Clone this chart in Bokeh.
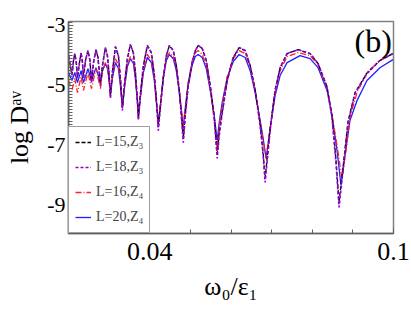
from bokeh.plotting import figure
from bokeh.models import Range1d, FixedTicker, Legend, LegendItem, Label
from bokeh.embed import file_html
from bokeh.resources import INLINE

# ---- data ----
x_purple = [0.02000, 0.02086, 0.02123, 0.02155, 0.02192, 0.02221, 0.02270, 0.02310, 0.02344, 0.02369,
            0.02418, 0.02479, 0.02528, 0.02565, 0.02614, 0.02676, 0.02725, 0.02786, 0.02835, 0.02909,
            0.02958, 0.02995, 0.03032, 0.03081, 0.03155, 0.03229, 0.03278, 0.03327, 0.03376, 0.03450,
            0.03523, 0.03597, 0.03646, 0.03695, 0.03720, 0.03769, 0.03843, 0.03941, 0.04039, 0.04113,
            0.04162, 0.04211, 0.04260, 0.04334, 0.04408, 0.04482, 0.04580, 0.04654, 0.04727, 0.04776,
            0.04826, 0.04875, 0.04948, 0.05047, 0.05120, 0.05194, 0.05292, 0.05391, 0.05489, 0.05587,
            0.05661, 0.05710, 0.05784, 0.05907, 0.06054, 0.06201, 0.06349, 0.06472, 0.06595, 0.06717,
            0.06791, 0.06840, 0.06963, 0.07086, 0.07209, 0.07381, 0.07651, 0.07946, 0.08143, 0.08364,
            0.08486, 0.08585, 0.08659, 0.08757, 0.08880, 0.09052, 0.09347, 0.09666, 0.09986]
y_purple = [-4.02, -4.68, -4.18, -3.95, -4.25, -4.78, -4.25, -3.92, -4.25, -4.78,
            -4.18, -3.85, -4.18, -4.92, -4.25, -3.82, -4.08, -5.02, -4.35, -3.75,
            -4.02, -4.58, -5.45, -4.58, -3.72, -4.02, -4.78, -5.85, -5.02, -4.12,
            -3.65, -3.92, -4.58, -5.52, -6.18, -5.35, -4.35, -3.68, -3.92, -4.68,
            -5.52, -6.52, -5.78, -4.78, -4.02, -3.68, -3.85, -4.35, -5.18, -6.02,
            -6.92, -6.02, -5.02, -4.25, -3.85, -3.68, -3.78, -4.18, -5.02, -6.12,
            -7.45, -6.68, -5.95, -4.85, -4.08, -3.75, -3.85, -4.35, -5.18, -6.35,
            -7.35, -8.25, -6.52, -5.18, -4.42, -3.95, -3.82, -3.95, -4.28, -5.08,
            -6.08, -7.62, -9.08, -7.85, -6.28, -5.28, -4.62, -4.18, -3.95]

x_black = x_purple
y_black = [-4.02, -4.65, -4.18, -3.95, -4.25, -4.75, -4.25, -3.92, -4.25, -4.75,
           -4.18, -3.85, -4.18, -4.88, -4.25, -3.82, -4.08, -4.95, -4.35, -3.75,
           -4.02, -4.55, -5.35, -4.55, -3.72, -4.02, -4.75, -5.75, -4.98, -4.12,
           -3.65, -3.92, -4.55, -5.45, -6.05, -5.30, -4.35, -3.68, -3.92, -4.65,
           -5.45, -6.40, -5.72, -4.75, -4.02, -3.68, -3.85, -4.35, -5.15, -5.95,
           -6.80, -5.95, -5.00, -4.25, -3.85, -3.68, -3.78, -4.18, -5.00, -6.05,
           -7.30, -6.60, -5.90, -4.85, -4.08, -3.75, -3.85, -4.35, -5.15, -6.30,
           -7.25, -8.10, -6.45, -5.15, -4.42, -3.95, -3.82, -3.95, -4.28, -5.05,
           -6.02, -7.50, -8.90, -7.75, -6.22, -5.25, -4.60, -4.18, -3.95]

x_red = [0.02000, 0.02086, 0.02155, 0.02221, 0.02310, 0.02369, 0.02479, 0.02565, 0.02676, 0.02786,
         0.02835, 0.02909, 0.02958, 0.02995, 0.03032, 0.03081, 0.03155, 0.03229, 0.03278, 0.03327,
         0.03376, 0.03450, 0.03523, 0.03597, 0.03646, 0.03695, 0.03720, 0.03769, 0.03843, 0.03941,
         0.04039, 0.04113, 0.04162, 0.04211, 0.04260, 0.04334, 0.04408, 0.04482, 0.04580, 0.04654,
         0.04727, 0.04776, 0.04826, 0.04875, 0.04948, 0.05047, 0.05120, 0.05194, 0.05292, 0.05391,
         0.05489, 0.05587, 0.05661, 0.05710, 0.05784, 0.05907, 0.06054, 0.06201, 0.06349, 0.06472,
         0.06595, 0.06717, 0.06791, 0.06865, 0.06963, 0.07086, 0.07209, 0.07381, 0.07651, 0.07946,
         0.08143, 0.08364, 0.08486, 0.08610, 0.08732, 0.08831, 0.08929, 0.09101, 0.09347, 0.09666,
         0.09986]
y_red = [-4.85, -5.18, -4.78, -5.25, -4.72, -5.18, -4.58, -5.12, -4.45, -5.12,
         -4.58, -4.25, -4.38, -4.78, -5.38, -4.68, -4.12, -4.32, -4.92, -5.78,
         -5.05, -4.32, -4.05, -4.18, -4.72, -5.52, -6.12, -5.38, -4.52, -3.98,
         -4.18, -4.78, -5.52, -6.35, -5.72, -4.72, -4.12, -3.92, -4.05, -4.45,
         -5.18, -5.78, -6.35, -5.78, -4.92, -4.18, -3.92, -3.85, -3.98, -4.35,
         -5.12, -6.12, -7.15, -6.35, -5.68, -4.72, -4.12, -3.85, -3.95, -4.42,
         -5.18, -6.25, -6.85, -7.42, -6.45, -5.25, -4.52, -4.05, -3.92, -4.02,
         -4.32, -5.12, -5.98, -7.02, -8.12, -7.18, -6.08, -5.25, -4.58, -4.18,
         -3.95]

x_blue = [0.02000, 0.02086, 0.02155, 0.02221, 0.02310, 0.02369, 0.02479, 0.02565, 0.02676, 0.02786,
          0.02835, 0.02909, 0.02958, 0.02995, 0.03032, 0.03081, 0.03155, 0.03229, 0.03278, 0.03327,
          0.03376, 0.03450, 0.03523, 0.03597, 0.03646, 0.03695, 0.03720, 0.03769, 0.03843, 0.03941,
          0.04039, 0.04113, 0.04162, 0.04211, 0.04260, 0.04334, 0.04408, 0.04482, 0.04580, 0.04654,
          0.04727, 0.04776, 0.04826, 0.04875, 0.04948, 0.05047, 0.05120, 0.05194, 0.05292, 0.05391,
          0.05489, 0.05587, 0.05661, 0.05710, 0.05784, 0.05907, 0.06054, 0.06201, 0.06349, 0.06472,
          0.06595, 0.06717, 0.06791, 0.06865, 0.06963, 0.07086, 0.07209, 0.07381, 0.07700, 0.07946,
          0.08143, 0.08364, 0.08486, 0.08610, 0.08708, 0.08806, 0.08929, 0.09101, 0.09347, 0.09666,
          0.09986]
y_blue = [-4.58, -4.85, -4.58, -4.92, -4.52, -4.92, -4.45, -4.85, -4.42, -4.92,
          -4.52, -4.28, -4.45, -4.78, -5.28, -4.78, -4.25, -4.45, -5.02, -5.75,
          -5.12, -4.38, -4.12, -4.28, -4.78, -5.52, -6.08, -5.42, -4.58, -4.08,
          -4.25, -4.85, -5.52, -6.25, -5.68, -4.75, -4.18, -3.98, -4.12, -4.52,
          -5.25, -5.85, -6.42, -5.75, -4.92, -4.32, -4.05, -3.98, -4.08, -4.45,
          -5.18, -6.02, -6.85, -6.25, -5.58, -4.75, -4.22, -3.98, -4.08, -4.52,
          -5.25, -6.18, -6.78, -7.45, -6.45, -5.35, -4.68, -4.25, -4.02, -4.12,
          -4.42, -5.18, -6.02, -7.18, -8.35, -7.35, -6.18, -5.52, -4.85, -4.42,
          -4.15]

labels = ["L=15,Z\u2083", "L=18,Z\u2083", "L=16,Z\u2084", "L=20,Z\u2084"]
x_major = [0.04, 0.1]
x_minor = [0.03, 0.05, 0.06, 0.07, 0.08, 0.09]
y_major = [-9, -7, -5, -3]
y_tick_text = {-9: "-9", -7: "-7", -5: "-5", -3: "-3"}
x_tick_text = {0.04: "0.04", 0.1: "0.1"}

SERIF = "Liberation Serif"

p = figure(width=411, height=318, output_backend="svg", toolbar_location=None,
           x_range=Range1d(0.02, 0.1), y_range=Range1d(-9.95, -2.88),
           min_border_left=68, min_border_right=18, min_border_top=21, min_border_bottom=85)
p.background_fill_color = "white"
p.border_fill_color = "white"
p.grid.visible = False
p.outline_line_color = "#808080"
p.outline_line_width = 1.5

r_blue = p.line(x_blue, y_blue, line_color="#1f1fff", line_width=1.3)
r_red = p.line(x_red, y_red, line_color="#ff2020", line_width=1.3, line_dash="6 2 1 2")
r_black = p.line(x_black, y_black, line_color="black", line_width=1.3, line_dash="4 2")
r_purple = p.line(x_purple, y_purple, line_color="#9400d3", line_width=1.6, line_dash="3 2")

p.xaxis.ticker = FixedTicker(ticks=x_major, minor_ticks=x_minor)
p.yaxis.ticker = FixedTicker(ticks=y_major,
                             minor_ticks=[round(-9.9 + 0.1 * i, 1) for i in range(71)])
p.yaxis.major_label_overrides = y_tick_text
p.xaxis.major_label_overrides = x_tick_text
for ax in (p.xaxis[0], p.yaxis[0]):
    ax.axis_line_color = "#606060"
    ax.axis_line_width = 1.5
    ax.major_tick_line_color = "#606060"
    ax.minor_tick_line_color = "#606060"
    ax.major_tick_in = 5
    ax.major_tick_out = 0
    ax.minor_tick_in = 4
    ax.minor_tick_out = 0
    ax.major_label_text_font = SERIF
    ax.axis_label_text_font = SERIF
    ax.axis_label_text_font_style = "normal"
    ax.axis_label_text_color = "black"
    ax.major_label_text_color = "black"

p.xaxis.major_label_text_font_size = "26px"
p.yaxis.major_label_text_font_size = "22px"
p.xaxis.axis_label = "\u03c9\u2080/\u03b5\u2081"
p.yaxis.axis_label = "log D\u1d43\u1d5b"
p.xaxis.axis_label_text_font_size = "26px"
p.yaxis.axis_label_text_font_size = "26px"
p.xaxis.major_label_standoff = 9
p.yaxis.major_label_standoff = 3
p.xaxis.axis_label_standoff = 9
p.yaxis.axis_label_standoff = 10

legend = Legend(items=[LegendItem(label=labels[0], renderers=[r_black]),
                       LegendItem(label=labels[1], renderers=[r_purple]),
                       LegendItem(label=labels[2], renderers=[r_red]),
                       LegendItem(label=labels[3], renderers=[r_blue])],
                location="bottom_left", margin=0, padding=6, spacing=7,
                label_text_font=SERIF, label_text_font_size="14px",
                label_height=18, glyph_height=18, glyph_width=16, label_standoff=5,
                border_line_color="#404040", border_line_width=1.2,
                background_fill_alpha=1.0)
p.add_layout(legend, "center")

p.add_layout(Label(x=0.0996, y=-2.93, text="(b)", text_align="right", text_baseline="top",
                   text_font=SERIF, text_font_size="32px", text_color="black"))

open("out.html", "w").write(file_html(p, INLINE))
